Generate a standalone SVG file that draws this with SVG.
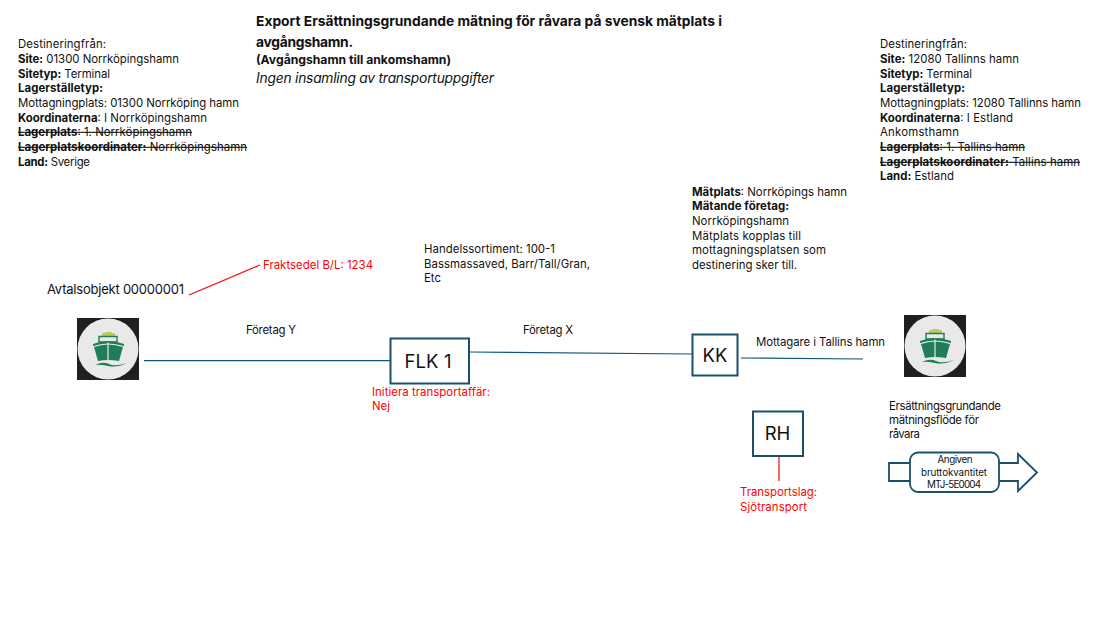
<svg xmlns="http://www.w3.org/2000/svg" width="1120" height="630" viewBox="0 0 1120 630">
<style>
text{font-family:"Inter","Liberation Sans",sans-serif;font-size:11.4px;fill:#111}
.b{font-weight:700}
.s{text-decoration:line-through}
.r{fill:#f00}
.box{fill:#fff;stroke:#1b4f6b;stroke-width:2}
.big{font-size:18.5px;text-anchor:middle}
.con{fill:none;stroke:#0f567a;stroke-width:1.200}
.red{fill:none;stroke:#f00;stroke-width:1.200}
</style>
<defs>
<g id="ship">
<rect x="0" y="0" width="62" height="62" fill="#1f1f1f"/>
<circle cx="31" cy="31" r="30.500" fill="#e9e9e9"/>
<path d="M25 18V15H28V14H35V15H38V18Z" fill="#b9cf5a"/>
<path d="M22 18.500H40V24H22Z" fill="#e9e9e9" stroke="#1f7d58" stroke-width="1.400"/>
<path d="M16 26Q31 20 47 26L47 28Q31 23 16 28Z" fill="#1f7d58"/>
<path d="M17 29Q31 24 46 29L42 43Q31 41 21 43Z" fill="#1f7d58"/>
<path d="M31 24.500V42" stroke="#e9e9e9" stroke-width="1.200"/>
<path d="M18 47Q26 43 32 46T50 45Q40 50 31 48T18 47Z" fill="#1f7d58"/>
</g>
</defs>
<g id="title">
<text x="256" y="26" class="b" style="font-size:13.800px" textLength="466">Export Ersättningsgrundande mätning för råvara på svensk mätplats i</text>
<text x="256" y="47" class="b" style="font-size:13.800px" textLength="97">avgångshamn.</text>
<text x="256" y="64" class="b" style="font-size:12.200px" textLength="195">(Avgångshamn till ankomshamn)</text>
<text x="256" y="83" style="font-size:13.800px;font-style:italic" textLength="238">Ingen insamling av transportuppgifter</text>
</g>
<g id="origin-info">
<text x="18" y="48" textLength="88">Destineringfrån:</text>
<text x="18" y="63" textLength="161"><tspan class="b">Site:</tspan> 01300 Norrköpingshamn</text>
<text x="18" y="78" textLength="92"><tspan class="b">Sitetyp:</tspan> Terminal</text>
<text x="18" y="92" class="b" textLength="85">Lagerställetyp:</text>
<text x="18" y="107" textLength="221">Mottagningplats: 01300 Norrköping hamn</text>
<text x="18" y="122" textLength="189"><tspan class="b">Koordinaterna</tspan>: I Norrköpingshamn</text>
<text x="18" y="136" class="s" textLength="174"><tspan class="b">Lagerplats</tspan>: 1. Norrköpingshamn</text>
<text x="18" y="151" class="s" textLength="229"><tspan class="b">Lagerplatskoordinater:</tspan> Norrköpingshamn</text>
<text x="18" y="166" textLength="72"><tspan class="b">Land:</tspan> Sverige</text>
</g>
<g id="destination-info">
<text x="880" y="48" textLength="87">Destineringfrån:</text>
<text x="880" y="63" textLength="139"><tspan class="b">Site:</tspan> 12080 Tallinns hamn</text>
<text x="880" y="78" textLength="92"><tspan class="b">Sitetyp:</tspan> Terminal</text>
<text x="880" y="92" class="b" textLength="85">Lagerställetyp:</text>
<text x="880" y="107" textLength="201">Mottagningplats: 12080 Tallinns hamn</text>
<text x="880" y="122" textLength="133"><tspan class="b">Koordinaterna</tspan>: I Estland</text>
<text x="880" y="136" textLength="79">Ankomsthamn</text>
<text x="880" y="151" class="s" textLength="145"><tspan class="b">Lagerplats</tspan>: 1. Tallins hamn</text>
<text x="880" y="166" class="s" textLength="200"><tspan class="b">Lagerplatskoordinater:</tspan> Tallins hamn</text>
<text x="880" y="180" textLength="74"><tspan class="b">Land:</tspan> Estland</text>
</g>
<g id="measure-info">
<text x="692" y="196" textLength="155"><tspan class="b">Mätplats</tspan>: Norrköpings hamn</text>
<text x="692" y="210" class="b" textLength="97">Mätande företag:</text>
<text x="692" y="225" textLength="97">Norrköpingshamn</text>
<text x="692" y="240" textLength="109">Mätplats kopplas till</text>
<text x="692" y="254" textLength="134">mottagningsplatsen som</text>
<text x="692" y="269" textLength="105">destinering sker till.</text>
</g>
<g id="assortment-info">
<text x="424" y="253" textLength="131">Handelssortiment: 100-1</text>
<text x="424" y="268" textLength="166">Bassmassaved, Barr/Tall/Gran,</text>
<text x="424" y="282" textLength="17">Etc</text>
</g>
<g id="connectors">
<path class="con" d="M144 360.600H390"/>
<path class="con" d="M470 352L692 354"/>
<path class="con" d="M741 358L863 359"/>
<path class="red" d="M189 295L260 265"/>
<path class="red" d="M427 384L437 381"/>
<path class="red" d="M779 456V481"/>
</g>
<g id="agreement-label"><text x="47" y="294" style="font-size:13px" textLength="137">Avtalsobjekt 00000001</text></g>
<g id="waybill-label"><text x="263" y="269" class="r" textLength="110">Fraktsedel B/L: 1234</text></g>
<g id="company-y-label"><text x="246" y="334" textLength="50">Företag Y</text></g>
<g id="company-x-label"><text x="523" y="334" textLength="50">Företag X</text></g>
<g id="receiver-label"><text x="756" y="346" textLength="129">Mottagare i Tallins hamn</text></g>
<g id="ship-origin"><use href="#ship" x="77" y="318"/></g>
<g id="ship-destination"><use href="#ship" x="904" y="315"/></g>
<g id="node-flk">
<rect class="box" x="390.500" y="338.500" width="78.500" height="45"/>
<text x="428" y="368" class="big" textLength="47">FLK 1</text>
</g>
<g id="node-kk">
<rect class="box" x="692.500" y="334.500" width="45" height="41"/>
<text x="715" y="361.500" class="big">KK</text>
</g>
<g id="node-rh">
<rect class="box" x="753" y="411.500" width="50" height="44.500"/>
<text x="777.500" y="440" class="big">RH</text>
</g>
<g id="initiate-label">
<text x="372" y="396" class="r" textLength="118">Initiera transportaffär:</text>
<text x="372" y="410" class="r" textLength="18">Nej</text>
</g>
<g id="transport-label">
<text x="740" y="496" class="r" textLength="77">Transportslag:</text>
<text x="740" y="511" class="r" textLength="67">Sjötransport</text>
</g>
<g id="flow-label">
<text x="889" y="410" textLength="112">Ersättningsgrundande</text>
<text x="889" y="424" textLength="90">mätningsflöde för</text>
<text x="889" y="438" textLength="31">råvara</text>
</g>
<g id="flow-arrow">
<path d="M889 463H1018V454L1037 472.500L1018 491V481H889Z" fill="#fff" stroke="#1b4f6b" stroke-width="1.800"/>
<rect x="910" y="452.500" width="89" height="39.500" rx="8" fill="#fff" stroke="#1b4f6b" stroke-width="1.800"/>
<g style="text-anchor:middle">
<text x="955" y="463" style="font-size:9.800px" textLength="35">Angiven</text>
<text x="954" y="475.500" style="font-size:9.800px" textLength="66">bruttokvantitet</text>
<text x="954" y="488" style="font-size:9.800px" textLength="54">MTJ-5E0004</text>
</g>
</g>
</svg>
